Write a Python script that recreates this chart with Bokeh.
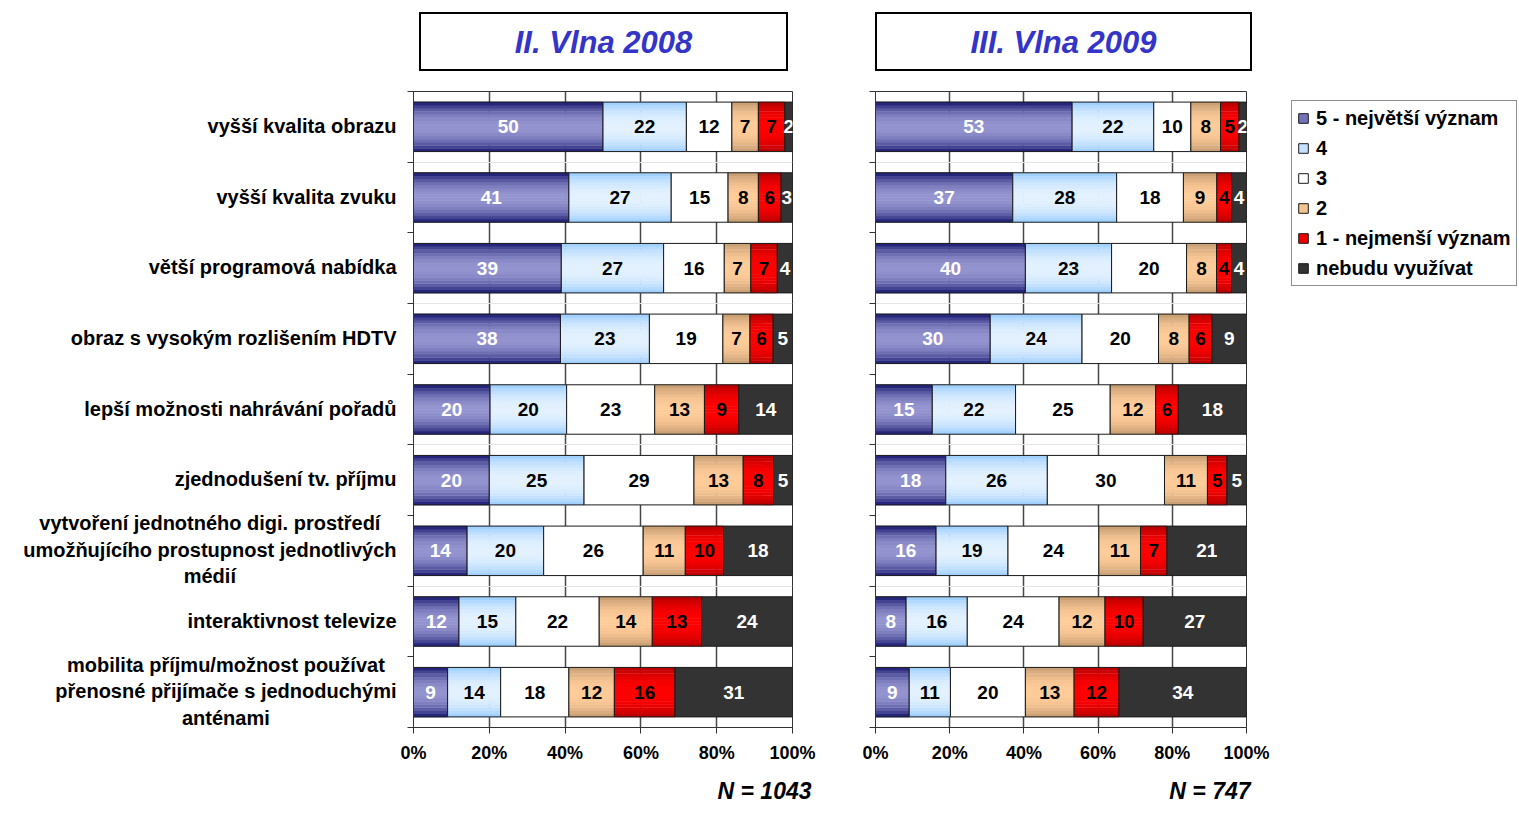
from bokeh.plotting import figure
from bokeh.models import (ColumnDataSource, Range1d, LinearAxis, Div, Title,
                          FixedTicker, Legend, LegendItem, PrintfTickFormatter,
                          CustomJSTickFormatter)
from bokeh.transform import dodge
from bokeh.layouts import row, column
from bokeh.embed import file_html
from bokeh.resources import INLINE
from bokeh.core.properties import value

# ---------------- data ----------------
categories = [
    "vyšší kvalita obrazu",
    "vyšší kvalita zvuku",
    "větší programová nabídka",
    "obraz s vysokým rozlišením HDTV",
    "lepší možnosti nahrávání pořadů",
    "zjednodušení tv. příjmu",
    "vytvoření jednotného digi. prostředí\numožňujícího prostupnost jednotlivých\nmédií",
    "interaktivnost televize",
    "mobilita příjmu/možnost používat\npřenosné přijímače s jednoduchými\nanténami",
]
series_names = ["5 - největší význam", "4", "3", "2", "1 - nejmenší význam", "nebudu využívat"]

w2008_5 = [50, 41, 39, 38, 20, 20, 14, 12, 9]
w2008_4 = [22, 27, 27, 23, 20, 25, 20, 15, 14]
w2008_3 = [12, 15, 16, 19, 23, 29, 26, 22, 18]
w2008_2 = [7, 8, 7, 7, 13, 13, 11, 14, 12]
w2008_1 = [7, 6, 7, 6, 9, 8, 10, 13, 16]
w2008_0 = [2, 3, 4, 5, 14, 5, 18, 24, 31]

w2009_5 = [53, 37, 40, 30, 15, 18, 16, 8, 9]
w2009_4 = [22, 28, 23, 24, 22, 26, 19, 16, 11]
w2009_3 = [10, 18, 20, 20, 25, 30, 24, 24, 20]
w2009_2 = [8, 9, 8, 8, 12, 11, 11, 12, 13]
w2009_1 = [5, 4, 4, 6, 6, 5, 7, 10, 12]
w2009_0 = [2, 4, 4, 9, 18, 5, 21, 27, 34]

x_ticks = [0, 20, 40, 60, 80, 100]
title_2008 = "II. Vlna 2008"
title_2009 = "III. Vlna 2009"
n_2008 = "N = 1043"
n_2009 = "N = 747"

# ---------------- styles ----------------
FONT = "Liberation Sans"
fills = [("#15156f", "#9393cf"), ("#99ccff", "#e3f1ff"), ("#ffffff", "#ffffff"),
         ("#c29a6f", "#ffcc99"), ("#b20000", "#ff0000"), ("#333333", "#333333")]
legend_fill = ["#7373bb", "#c4e2ff", "#ffffff", "#f2c48f", "#ee0000", "#333333"]
text_colors = ["white", "black", "black", "black", "black", "white"]
BAR_H = 0.70
STRIPS = 16
N = len(categories)
FRAME_H = 636
TOP = 91
LAB_EXTRA = 0.75          # label column extends a little below the bar area
# row position of each category (first category on top), band centres
row_pos = [N - 1 - i + 0.5 for i in range(N)]


def mix(c1, c2, t):
    a = [int(c1[i:i + 2], 16) for i in (1, 3, 5)]
    b = [int(c2[i:i + 2], 16) for i in (1, 3, 5)]
    return "#%02x%02x%02x" % tuple(round(a[k] * t + b[k] * (1 - t)) for k in range(3))


def build_panel(p, values):
    totals = [sum(v[i] for v in values) for i in range(N)]
    cum = [0.0] * N
    sources = []
    for s, vals in enumerate(values):
        left = [cum[i] / totals[i] * 100 for i in range(N)]
        right = [(cum[i] + vals[i]) / totals[i] * 100 for i in range(N)]
        cum = [cum[i] + vals[i] for i in range(N)]
        src = ColumnDataSource(dict(y=row_pos, left=left, right=right,
                                    mid=[(l + r) / 2 for l, r in zip(left, right)],
                                    label=[str(v) for v in vals]))
        sources.append(src)
        edge, centre = fills[s]
        if edge != centre:
            for j in range(STRIPS):
                off = -BAR_H / 2 + (j + 0.5) * BAR_H / STRIPS
                t = (abs(off) / (BAR_H / 2)) ** 2.2
                p.hbar(y=dodge("y", off), left="left", right="right",
                       height=BAR_H / STRIPS * 1.15, fill_color=mix(edge, centre, t),
                       line_color=None, source=src)
            p.hbar(y="y", left="left", right="right", height=BAR_H, fill_color=None,
                   line_color="#1a1a1a", line_width=1, source=src)
        else:
            p.hbar(y="y", left="left", right="right", height=BAR_H, fill_color=edge,
                   line_color="#1a1a1a", line_width=1, source=src)
        p.text(x="mid", y="y", text="label", source=src, text_align="center",
               text_baseline="middle", text_font=value(FONT), text_font_style="bold",
               text_font_size="19px", text_color=text_colors[s])
    return sources


def make_panel(frame_w, left_border, right_border, n_text, n_offset):
    p = figure(frame_width=frame_w, frame_height=FRAME_H,
               x_range=Range1d(0, 100), y_range=Range1d(0, N),
               min_border_left=left_border, min_border_right=right_border,
               min_border_top=3, min_border_bottom=80,
               y_axis_location=None, toolbar_location=None, output_backend="svg")
    p.outline_line_color = "#333333"
    p.outline_line_width = 1
    # x axis
    p.xaxis.ticker = FixedTicker(ticks=x_ticks)
    p.xaxis.formatter = PrintfTickFormatter(format="%d%%")
    p.xaxis.major_tick_out = 6
    p.xaxis.major_tick_in = 0
    p.xaxis.minor_tick_line_color = None
    p.xaxis.axis_line_color = "#333333"
    p.xaxis.major_tick_line_color = "#333333"
    p.xaxis.major_label_standoff = 9
    p.xaxis.major_label_text_font = FONT
    p.xaxis.major_label_text_font_style = "bold"
    p.xaxis.major_label_text_font_size = "18px"
    p.xaxis.major_label_text_color = "black"
    p.xgrid.ticker = FixedTicker(ticks=x_ticks)
    p.xgrid.grid_line_color = "#474747"
    p.xgrid.grid_line_width = 1.5
    # category boundary ticks
    band_axis = LinearAxis(ticker=FixedTicker(ticks=list(range(N + 1))),
                           formatter=CustomJSTickFormatter(code="return ''"),
                           major_tick_out=6, major_tick_in=0, minor_tick_line_color=None,
                           axis_line_color="#333333", major_tick_line_color="#333333",
                           major_label_standoff=0)
    p.add_layout(band_axis, "left")
    p.add_layout(Title(text=n_text, align="right", offset=n_offset, standoff=20,
                       vertical_align="bottom",
                       text_font=FONT, text_font_style="bold italic", text_font_size="23px",
                       text_color="black"), "below")
    return p


def make_header(text, width, left):
    html = ('<div style="box-sizing:border-box;width:%dpx;height:59px;border:2px solid #000;'
            'display:flex;align-items:center;justify-content:center;padding-top:3px;'
            "font-family:'Liberation Sans',Arial,sans-serif;font-weight:bold;font-style:italic;"
            'font-size:31px;color:#3434c8;background:#fff;">%s</div>' % (width, text))
    return Div(text=html, width=width, height=59, margin=(12, 0, 17, left))


# category label column (lines centred, block right-aligned against the axis)
band_px = FRAME_H / N
lab = figure(frame_width=400, frame_height=int(round(FRAME_H + LAB_EXTRA * band_px)),
             x_range=Range1d(0, 1), y_range=Range1d(-LAB_EXTRA, N),
             min_border_left=0, min_border_right=0, min_border_top=TOP, min_border_bottom=0,
             x_axis_location=None, y_axis_location=None, toolbar_location=None,
             output_backend="svg")
lab.outline_line_color = None
lab.grid.grid_line_color = None
lab_src = ColumnDataSource(dict(y=row_pos, text=categories))
lab.text(x=1, y="y", text="text", source=lab_src, x_offset=-4, y_offset=-10,
         anchor="center_right", text_align="center", text_baseline="middle",
         text_font=value(FONT), text_font_style="bold", text_font_size="20px",
         text_color="black", text_line_height=1.2)

p1 = make_panel(379, 13, 48, n_2008, -19)
p2 = make_panel(371, 35, 30, n_2009, -4)
build_panel(p1, [w2008_5, w2008_4, w2008_3, w2008_2, w2008_1, w2008_0])
src2 = build_panel(p2, [w2009_5, w2009_4, w2009_3, w2009_2, w2009_1, w2009_0])

h1 = make_header(title_2008, 369, 19)
h2 = make_header(title_2009, 377, 35)

# legend figure (legend proxies share the data of the 2009 panel, hidden)
lg = figure(frame_width=228, frame_height=260, min_border_left=15, min_border_top=100,
            min_border_right=0, min_border_bottom=0, x_range=Range1d(0, 100),
            y_range=Range1d(0, N), x_axis_location=None, y_axis_location=None,
            toolbar_location=None, output_backend="svg")
lg.outline_line_color = None
lg.grid.grid_line_color = None
items = []
for name, col, src in zip(series_names, legend_fill, src2):
    r = lg.hbar(y="y", left="left", right="right", height=BAR_H, source=src, fill_color=col,
                line_color="#1a1a1a", line_width=1, visible=False)
    items.append(LegendItem(label=name, renderers=[r]))
legend = Legend(items=items, location="top_left", margin=0, padding=5, spacing=6,
                label_height=24, glyph_height=12, glyph_width=12, label_standoff=7,
                border_line_color="#222222", border_line_width=1,
                background_fill_color="white", background_fill_alpha=1,
                inactive_fill_alpha=0,
                label_text_font=FONT, label_text_font_style="bold",
                label_text_font_size="20px", label_text_color="black")
lg.add_layout(legend)

layout = row(lab, column(h1, p1), column(h2, p2), lg)
open("out.html", "w").write(file_html(layout, INLINE))
